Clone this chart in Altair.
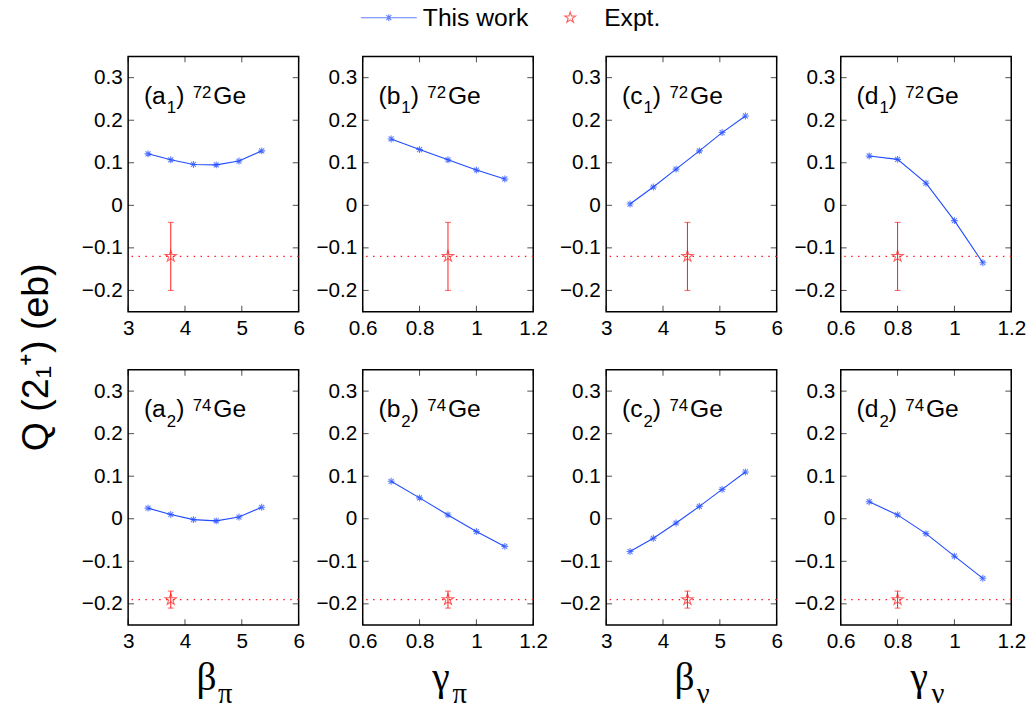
import altair as alt
import pandas as pd

# ---------------- data ----------------
beta_pi = [3.35, 3.75, 4.15, 4.55, 4.95, 5.35]
gamma_pi = [0.7, 0.8, 0.9, 1.0, 1.1]
beta_nu = [3.42, 3.83, 4.23, 4.64, 5.04, 5.45]
gamma_nu = [0.7, 0.8, 0.9, 1.0, 1.1]

q_ge72_a = [0.121, 0.107, 0.096, 0.095, 0.104, 0.128]
q_ge72_b = [0.156, 0.131, 0.107, 0.083, 0.062]
q_ge72_c = [0.003, 0.043, 0.085, 0.128, 0.171, 0.210]
q_ge72_d = [0.116, 0.108, 0.052, -0.036, -0.135]

q_ge74_a = [0.025, 0.010, -0.002, -0.005, 0.004, 0.027]
q_ge74_b = [0.088, 0.049, 0.009, -0.030, -0.065]
q_ge74_c = [-0.077, -0.046, -0.010, 0.029, 0.069, 0.110]
q_ge74_d = [0.040, 0.009, -0.035, -0.088, -0.140]

expt_x = [3.75, 0.9, 4.43, 0.8]
expt_ge72 = [-0.12, 0.08]   # value, error
expt_ge74 = [-0.19, 0.02]

panel_tags = ["a", "b", "c", "d"]
row_subs = ["1", "2"]
mass_numbers = ["72", "74"]
element = "Ge"
x_symbols = ["\u03b2", "\u03b3", "\u03b2", "\u03b3"]
x_subs = ["\u03c0", "\u03c0", "\u03bd", "\u03bd"]
x_domains = [[3, 6], [0.6, 1.2], [3, 6], [0.6, 1.2]]
x_ticks = [[3, 4, 5, 6], [0.6, 0.8, 1, 1.2], [3, 4, 5, 6], [0.6, 0.8, 1, 1.2]]
y_domain = [-0.25, 0.35]
y_ticks = [-0.2, -0.1, 0, 0.1, 0.2, 0.3]
series = ["This work", "Expt."]
y_title = "Q (2\u2081\u207a) (eb)"

x_values = [beta_pi, gamma_pi, beta_nu, gamma_nu]
q_rows = [[q_ge72_a, q_ge72_b, q_ge72_c, q_ge72_d],
          [q_ge74_a, q_ge74_b, q_ge74_c, q_ge74_d]]
expt_rows = [expt_ge72, expt_ge74]

# ---------------- style ----------------
FONT = "Liberation Sans"
SERIF = "Liberation Serif"
BLUE = "#1f4bff"
RED = "#ff1a1a"
W, H = 173, 259
TICK = 6
LBL = 25      # panel label font size
SCRIPT = 17   # sub/superscript font size
CHAR_EM = {"(": 0.333, "a": 0.556, "b": 0.556, "c": 0.5, "d": 0.556}
AST = "M-1,0H1M0,-1V1M-0.72,-0.72L0.72,0.72M-0.72,0.72L0.72,-0.72"
LEG_AST = "M-8.1,0H8.1M0,-1V1M-0.72,-0.72L0.72,0.72M-0.72,0.72L0.72,-0.72"
STAR = ("M0,-1.65L0.37,-0.51L1.57,-0.51L0.6,0.19L0.97,1.33L0,0.63"
        "L-0.97,1.33L-0.6,0.19L-1.57,-0.51L-0.37,-0.51Z")

legend = alt.Legend(title=None, orient="none", legendX=252, legendY=-52,
                    direction="horizontal", labelFont=FONT, labelFontSize=25,
                    labelColor="black", symbolSize=49, symbolStrokeWidth=1.1,
                    labelOffset=22, columnPadding=30)
color_enc = alt.Color("series:N", scale=alt.Scale(domain=series, range=[BLUE, RED]),
                      legend=legend)
shape_enc = alt.Shape("series:N", scale=alt.Scale(domain=series, range=[LEG_AST, STAR]),
                      legend=legend)


def axis(orient, values):
    return alt.Axis(orient=orient, values=values, title=None, ticks=False, tickSize=0,
                    domain=False, grid=False, format="~g", labelFont=FONT,
                    labelFontSize=21, labelColor="black", labelPadding=6,
                    labelFlush=False, labelOverlap=False)


def text_layer(txt, x, y, size, font=FONT, align="left"):
    return alt.Chart(pd.DataFrame({"t": [txt]})).mark_text(
        font=font, fontSize=size, align=align, baseline="alphabetic", color="black").encode(
        x=alt.value(x), y=alt.value(y), text="t:N")


def panel_label(col, row):
    x0 = 16
    lead = "(" + panel_tags[col]
    lead_w = (CHAR_EM["("] + CHAR_EM[panel_tags[col]]) * LBL
    x_sub = x0 + lead_w + 1
    x_par = x0 + lead_w + 10.5
    x_mass = x_par + CHAR_EM["("] * LBL + 8.5
    x_el = x_mass + 2 * 0.556 * SCRIPT + 2
    return [
        text_layer(lead, x0, 48, LBL),
        text_layer(row_subs[row], x_sub, 57.5, SCRIPT),
        text_layer(")", x_par, 48, LBL),
        text_layer(mass_numbers[row], x_mass, 42, SCRIPT),
        text_layer(element, x_el, 48, LBL),
    ]


def panel(col, row):
    xs = x_values[col]
    ys = q_rows[row][col]
    work = pd.DataFrame({"x": xs, "q": ys, "series": [series[0]] * len(xs)})
    ev, ee = expt_rows[row]
    edf = pd.DataFrame({"x": [expt_x[col]], "q": [ev], "lo": [ev - ee],
                        "hi": [ev + ee], "series": [series[1]]})
    xsc = alt.Scale(domain=x_domains[col], nice=False, zero=False)
    ysc = alt.Scale(domain=y_domain, nice=False, zero=False)
    xax = axis("bottom", x_ticks[col])
    yax = axis("left", y_ticks)

    def X(f):
        return alt.X(f, scale=xsc, axis=xax)

    def Y(f):
        return alt.Y(f, scale=ysc, axis=yax)

    xt = pd.DataFrame({"v": x_ticks[col]})
    yt = pd.DataFrame({"v": y_ticks})
    ticks = []
    for ypix in (H - TICK / 2, TICK / 2):
        ticks.append(alt.Chart(xt).mark_tick(color="black", orient="vertical", size=TICK,
                                             thickness=1).encode(x=X("v:Q"), y=alt.value(ypix)))
    for xpix in (TICK / 2, W - TICK / 2):
        ticks.append(alt.Chart(yt).mark_tick(color="black", orient="horizontal", size=TICK,
                                             thickness=1).encode(y=Y("v:Q"), x=alt.value(xpix)))

    line = alt.Chart(work).mark_line(color=BLUE, strokeWidth=1.1).encode(
        x=X("x:Q"), y=Y("q:Q"))
    ref = alt.Chart(edf).mark_rule(color=RED, strokeWidth=1.1, strokeDash=[1.5, 5.5]).encode(
        y=Y("q:Q"))
    bar = alt.Chart(edf).mark_rule(color=RED, strokeWidth=1).encode(
        x=X("x:Q"), y=Y("lo:Q"), y2="hi:Q")
    caps = alt.Chart(edf).transform_fold(["lo", "hi"]).mark_tick(
        color=RED, orient="horizontal", size=6, thickness=1).encode(
        x=X("x:Q"), y=Y("value:Q"))
    star = alt.Chart(edf).mark_point(filled=False, size=53, strokeWidth=1.1).encode(
        x=X("x:Q"), y=Y("q:Q"), color=color_enc, shape=shape_enc)
    pts = alt.Chart(work).mark_point(shape=AST, filled=False, size=49, strokeWidth=1.1).encode(
        x=X("x:Q"), y=Y("q:Q"), color=color_enc)
    layers = [line] + ticks + [ref, bar, caps, star, pts] + panel_label(col, row)
    if row == 1:
        layers += [text_layer(x_symbols[col], W / 2 - 7, H + 66, 40, SERIF, "center"),
                   text_layer(x_subs[col], W / 2 + 12, H + 79, 29, SERIF, "center")]
    return alt.layer(*layers).properties(width=W, height=H)


rows = [alt.hconcat(*[panel(c, r) for c in range(4)], spacing=9) for r in range(2)]
chart = alt.vconcat(*rows, spacing=30).properties(
    title=alt.TitleParams(y_title, orient="left", anchor="middle",
                          font=FONT, fontSize=38, fontWeight="normal", color="black",
                          offset=25),
    padding={"left": 18, "top": 0, "right": 2, "bottom": 2},
).configure_view(stroke="black", strokeWidth=1.5)

chart.save("out.html", embed_options={"renderer": "svg", "actions": False})
